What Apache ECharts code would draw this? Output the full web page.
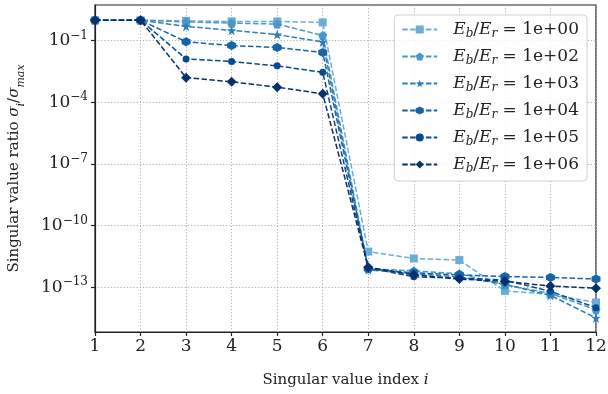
<!DOCTYPE html>
<html>
<head>
<meta charset="utf-8">
<script src="https://cdn.jsdelivr.net/npm/echarts@6/dist/echarts.min.js"></script>
<style>html,body{margin:0;padding:0;background:#fff}#c{width:608px;height:394px}</style>
</head>
<body>
<div id="c"></div>
<script>
const xIndex = [1,2,3,4,5,6,7,8,9,10,11,12];
const ratioLabels = ['1e+00','1e+02','1e+03','1e+04','1e+05','1e+06'];
const s1e0 = [1, 1, 0.93, 0.87, 0.87, 0.78, 5.4e-12, 2.5e-12, 2.1e-12, 6.6e-14, 4.5e-14, 1.8e-14];
const s1e2 = [1, 1, 0.83, 0.72, 0.65, 0.18, 7.9e-13, 6.3e-13, 4.5e-13, 1.3e-13, 5.0e-14, 7.9e-15];
const s1e3 = [1, 1, 0.5, 0.32, 0.2, 0.087, 7.1e-13, 4.5e-13, 3.2e-13, 1.4e-13, 4.0e-14, 3.2e-15];
const s1e4 = [1, 1, 0.089, 0.058, 0.047, 0.027, 7.9e-13, 5.0e-13, 4.0e-13, 3.3e-13, 3.0e-13, 2.5e-13];
const s1e5 = [1, 1, 0.013, 0.0098, 0.006, 0.0029, 8.9e-13, 3.2e-13, 2.8e-13, 2.2e-13, 6.3e-14, 1.0e-14];
const s1e6 = [1, 1, 0.0016, 0.001, 0.00055, 0.00026, 9.3e-13, 4.0e-13, 2.5e-13, 1.9e-13, 1.15e-13, 8.9e-14];
const yTicks = [1e-1, 1e-4, 1e-7, 1e-10, 1e-13];

const seriesValues = [s1e0, s1e2, s1e3, s1e4, s1e5, s1e6];
const colors = ['#6aaed6', '#4a98c9', '#2e7ebc', '#1764ab', '#084a91', '#08306b'];
const pentagon = 'path://M0,-1L0.951,-0.309L0.588,0.809L-0.588,0.809L-0.951,-0.309Z';
const star = 'path://M0,-1L0.225,-0.309L0.951,-0.309L0.363,0.118L0.588,0.809L0,0.382L-0.588,0.809L-0.363,0.118L-0.951,-0.309L-0.225,-0.309Z';
const hexagon = 'path://M0,-1L0.866,-0.5L0.866,0.5L0,1L-0.866,0.5L-0.866,-0.5Z';
const symbols = ['rect', pentagon, star, hexagon, 'circle', 'diamond'];
const sizes = [8, 9, 10, 9, 7, 10];

const FONT = 'DejaVu Serif';
const names = ratioLabels.map(l => 'r' + l);

const series = seriesValues.map((vals, k) => ({
  name: names[k],
  type: 'line',
  data: vals.map((v, i) => [xIndex[i], v]),
  symbol: symbols[k],
  symbolSize: sizes[k],
  showSymbol: true,
  color: colors[k],
  lineStyle: { width: 1.5, type: [5.5, 2.4], color: colors[k] },
  itemStyle: { color: colors[k] },
  z: 2 + k
}));

const chart = echarts.init(document.getElementById('c'), null, { renderer: 'canvas' });
chart.setOption({
  animation: false,
  backgroundColor: '#fff',
  grid: { left: 95, right: 12, top: 5, bottom: 62, outerBoundsMode: 'none', containLabel: false, show: true, borderColor: '#222', borderWidth: 1.2, backgroundColor: 'transparent' },
  xAxis: {
    type: 'value', min: 1, max: 12, interval: 1,
    axisLine: { show: true, lineStyle: { color: '#222', width: 1.2 } },
    axisTick: { show: true, inside: false, length: 4, lineStyle: { color: '#222', width: 1.2 } },
    axisLabel: { color: '#222', fontFamily: FONT, fontSize: 17, margin: 6 },
    splitLine: { show: true, lineStyle: { color: '#b0b0b0', width: 1, type: [1.2, 2] } },
    name: 'Singular value index {i|i}',
    nameLocation: 'middle', nameGap: 41,
    nameTextStyle: { color: '#222', fontFamily: FONT, fontSize: 15, rich: { i: { fontStyle: 'italic', fontFamily: FONT, fontSize: 15, color: '#222' } } }
  },
  yAxis: {
    type: 'log', logBase: 10, min: 6.6e-16, max: 5.5,
    axisLine: { show: true, lineStyle: { color: '#222', width: 1.2 } },
    axisTick: { show: true, length: 4, customValues: yTicks, lineStyle: { color: '#222', width: 1.2 } },
    axisLabel: {
      customValues: yTicks,
      margin: 7,
      formatter: v => { const e = Math.round(Math.log10(v)); return '{b|10}{s|\u2212' + (-e) + '}'; },
      rich: {
        b: { fontFamily: FONT, fontSize: 17, color: '#222' },
        s: { fontFamily: FONT, fontSize: 12, color: '#222', padding: [0, 0, 10, 0] }
      }
    },
    splitLine: { show: true, lineStyle: { color: '#b0b0b0', width: 1, type: [1.2, 2] } },
    name: 'Singular value ratio {i|σ}{sub|i}{n|/}{i|σ}{sub|max}',
    nameLocation: 'middle', nameGap: 68,
    nameTextStyle: {
      color: '#222', fontFamily: FONT, fontSize: 15,
      rich: {
        i: { fontStyle: 'italic', fontFamily: FONT, fontSize: 15, color: '#222' },
        n: { fontFamily: FONT, fontSize: 15, color: '#222' },
        sub: { fontStyle: 'italic', fontFamily: FONT, fontSize: 11, color: '#222', padding: [0, 0, 0, 0], verticalAlign: 'bottom', lineHeight: 26 }
      }
    }
  },
  legend: {
    data: names,
    orient: 'vertical',
    right: 21, top: 15,
    padding: [6, 8, 6, 7],
    itemWidth: 35, itemHeight: 10, itemGap: 8,
    backgroundColor: 'rgba(255,255,255,0.85)',
    borderColor: '#d0d0d0', borderWidth: 1, borderRadius: 4,
    formatter: n => {
      const lbl = n.slice(1);
      return '{i|E}{sub|b}{n|/}{i|E}{sub|r}{n| = ' + lbl + '}';
    },
    textStyle: {
      fontFamily: FONT, fontSize: 17, color: '#222', padding: [0, 0, 0, 11],
      rich: {
        i: { fontStyle: 'italic', fontFamily: FONT, fontSize: 17, color: '#222' },
        n: { fontFamily: FONT, fontSize: 17, color: '#222' },
        sub: { fontStyle: 'italic', fontFamily: FONT, fontSize: 12, color: '#222', padding: [9, 0, 0, 0] }
      }
    }
  },
  series: series
});
</script>
</body>
</html>
